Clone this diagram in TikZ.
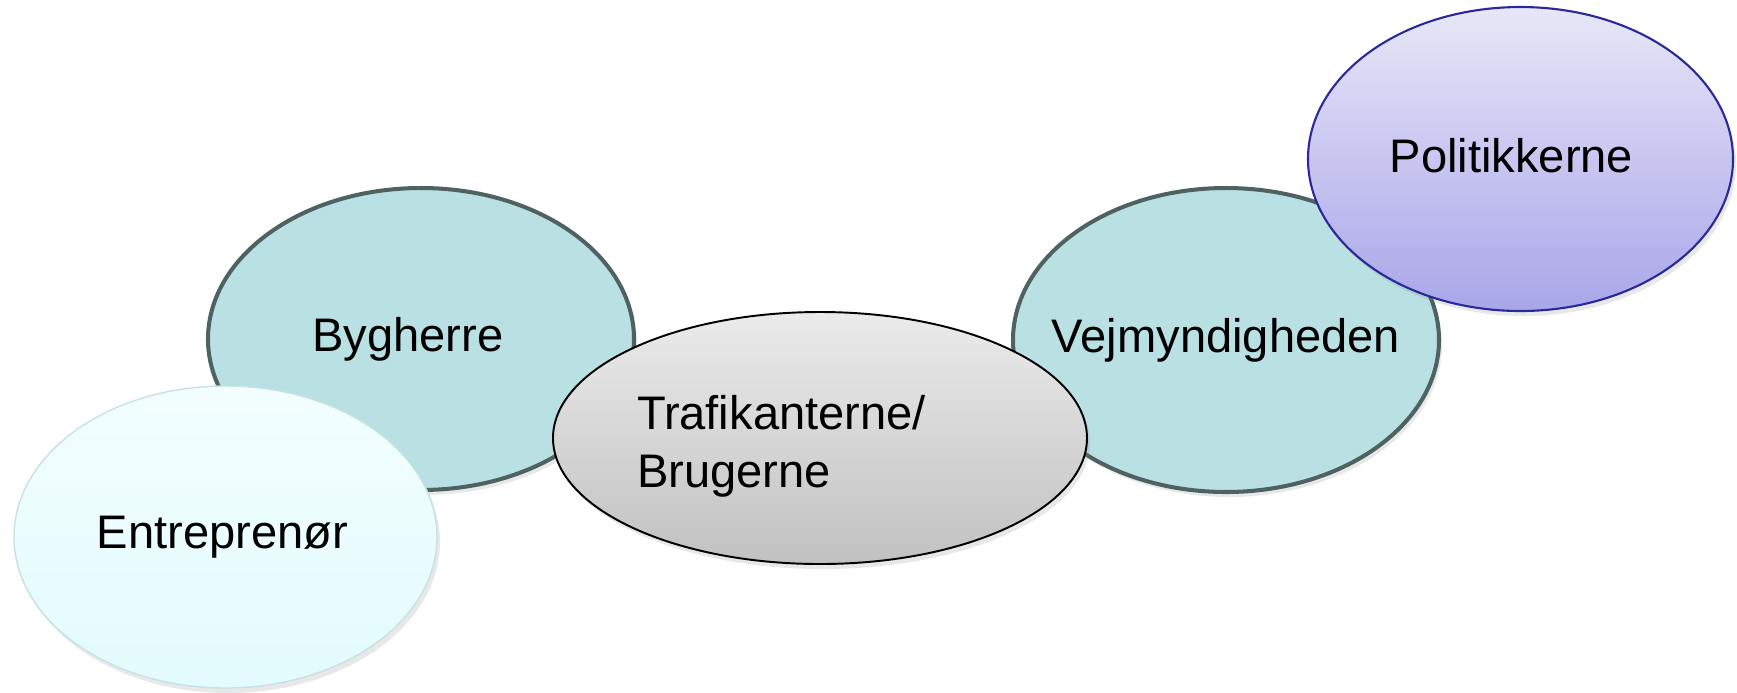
\documentclass[tikz,border=0pt]{standalone}
\usepackage{fontspec}
\setmainfont{Liberation Sans}
\usetikzlibrary{shapes.geometric,shadows}

\definecolor{tealfill}{HTML}{B9E0E3}
\definecolor{tealline}{HTML}{4E6262}
\definecolor{isblaa}{HTML}{F3FEFF}
\definecolor{isblaaned}{HTML}{E2FBFD}
\definecolor{isline}{HTML}{C5E2E4}
\definecolor{graaop}{HTML}{EBEBEB}
\definecolor{graaned}{HTML}{C1C1C1}
\definecolor{lillaop}{HTML}{E7E7F8}
\definecolor{lillaned}{HTML}{A9A6E9}
\definecolor{lillaline}{HTML}{29299A}

\begin{document}
\begin{tikzpicture}[font=\fontsize{13.4}{16.5}\selectfont,
  rolle/.style={ellipse,inner sep=0pt,minimum width=4.26cm,minimum height=3.02cm,
    drop shadow={opacity=0.18,shadow xshift=0.03cm,shadow yshift=-0.05cm}},
  myndig/.style={rolle,draw=tealline,line width=1.15pt,fill=tealfill},
  udfoer/.style={rolle,draw=isline,line width=0.4pt,top color=isblaa,bottom color=isblaaned},
  bruger/.style={rolle,draw=black,line width=0.55pt,top color=graaop,bottom color=graaned},
  politisk/.style={rolle,draw=lillaline,line width=0.6pt,top color=lillaop,bottom color=lillaned}
]
  \useasboundingbox (0,0) rectangle (17.37,-6.92);
  % bag: de to myndigheder
  \node (byg) at (4.21,-3.39) [myndig,label={[xshift=-0.13cm]center:Bygherre}] {};
  \node (vej) at (12.26,-3.40) [myndig,minimum height=3.04cm,label=center:Vejmyndigheden] {};
  % i midten
  \node (traf) at (8.20,-4.38) [bruger,minimum width=5.34cm,minimum height=2.52cm,
    label={[text width=3.66cm,align=left,yshift=-0.08cm]center:Trafikanterne/\\Brugerne}] {};
  % forrest
  \node (entr) at (2.255,-5.37) [udfoer,minimum width=4.23cm,label={[xshift=-0.03cm]center:Entreprenør}] {};
  \node (pol) at (15.205,-1.59) [politisk,minimum width=4.25cm,minimum height=3.04cm,
    label={[xshift=-0.09cm,yshift=0.03cm]center:Politikkerne}] {};
\end{tikzpicture}
\end{document}
